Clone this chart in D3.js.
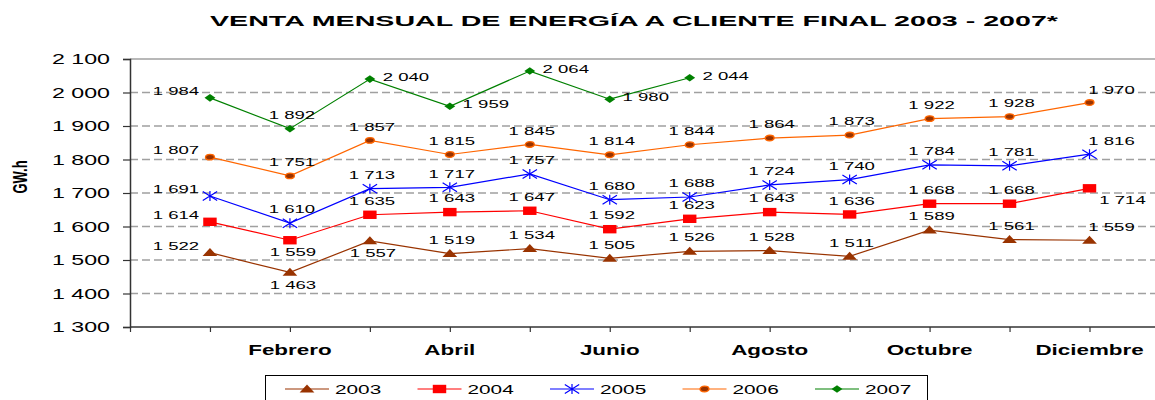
<!DOCTYPE html>
<html>
<head>
<meta charset="utf-8">
<script src="https://cdn.jsdelivr.net/npm/d3@7/dist/d3.min.js"></script>
<style>
    body { margin: 0; background: #fff; }
    svg { display: block; font-family: "Liberation Sans", Arial, sans-serif; }
</style>
</head>
<body>
<div id="chart"></div>
<script>
// categories
var months = ['Enero', 'Febrero', 'Marzo', 'Abril', 'Mayo', 'Junio',
              'Julio', 'Agosto', 'Septiembre', 'Octubre', 'Noviembre', 'Diciembre'];
var years = ['2003', '2004', '2005', '2006', '2007'];

// GW.h per month
var venta2003 = [1522, 1463, 1557, 1519, 1534, 1505, 1526, 1528, 1511, 1589, 1561, 1559];
var venta2004 = [1614, 1559, 1635, 1643, 1647, 1592, 1623, 1643, 1636, 1668, 1668, 1714];
var venta2005 = [1691, 1610, 1713, 1717, 1757, 1680, 1688, 1724, 1740, 1784, 1781, 1816];
var venta2006 = [1807, 1751, 1857, 1815, 1845, 1814, 1844, 1864, 1873, 1922, 1928, 1970];
var venta2007 = [1984, 1892, 2040, 1959, 2064, 1980, 2044];

var yTicks = [1300, 1400, 1500, 1600, 1700, 1800, 1900, 2000, 2100];

// where each data label sits relative to its point (l, a, b, r, ar, rb)
var labels2003 = ['l', 'b', 'b', 'a', 'a', 'a', 'a', 'a', 'a', 'a', 'a', 'ar'];
var labels2004 = ['l', 'b', 'a', 'a', 'a', 'a', 'a', 'a', 'a', 'a', 'a', 'rb'];
var labels2005 = ['l', 'a', 'a', 'a', 'a', 'a', 'a', 'a', 'a', 'a', 'a', 'ar'];
var labels2006 = ['l', 'a', 'a', 'a', 'a', 'a', 'a', 'a', 'a', 'a', 'a', 'ar'];
var labels2007 = ['l', 'a', 'r', 'r', 'r', 'r', 'r'];

var WIDTH = 1155, HEIGHT = 400;
var PLOT = {left: 130, right: 1155, top: 59, bottom: 327};
// the original picture is stretched sideways, text and markers follow it
var SX = 1.6;

var LABEL_OFFSETS = {
    l:  {dx: -34, dy: -7},
    a:  {dx: 2,   dy: -14},
    b:  {dx: 3,   dy: 12},
    r:  {dx: 36,  dy: -2},
    ar: {dx: 22,  dy: -13},
    rb: {dx: 33,  dy: 11}
};

var fmt = d3.formatLocale({decimal: ',', thousands: ' ', grouping: [3], currency: ['', '']}).format(',d');

var series = [
    {name: years[0], values: venta2003, pos: labels2003, color: '#993300', marker: 'triangle'},
    {name: years[1], values: venta2004, pos: labels2004, color: '#ff0000', marker: 'square'},
    {name: years[2], values: venta2005, pos: labels2005, color: '#0000ff', marker: 'star'},
    {name: years[3], values: venta2006, pos: labels2006, color: '#ff6600', marker: 'circle'},
    {name: years[4], values: venta2007, pos: labels2007, color: '#008000', marker: 'diamond'}
];

var svg = d3.select('#chart').append('svg')
    .attr('width', WIDTH)
    .attr('height', HEIGHT);

// Scales: month i sits on tick i+1, tick 0 is the value axis
var x = d3.scaleLinear().domain([0, 12]).range([PLOT.left, 1089.5]);
var y = d3.scaleLinear().domain([1300, 2100]).range([PLOT.bottom, PLOT.top]);

/**
 * Draws one marker shape (pre-stretch coordinates) into a group.
 */
function drawMarker(g, type, color) {
    if (type === 'triangle') {
        g.append('path').attr('d', 'M0,-4.6L4.6,3.4L-4.6,3.4Z').attr('fill', color);
    } else if (type === 'square') {
        g.append('rect').attr('x', -4.2).attr('y', -4.2).attr('width', 8.4).attr('height', 8.4).attr('fill', color);
    } else if (type === 'star') {
        g.append('path')
            .attr('d', 'M-4.5,-4.5L4.5,4.5M-4.5,4.5L4.5,-4.5M0,-5L0,5')
            .attr('stroke', color)
            .attr('stroke-width', 1.2)
            .attr('vector-effect', 'non-scaling-stroke')
            .attr('fill', 'none');
    } else if (type === 'circle') {
        g.append('circle').attr('r', 2.8)
            .attr('fill', '#993300')
            .attr('stroke', color)
            .attr('stroke-width', 1.3)
            .attr('vector-effect', 'non-scaling-stroke');
    } else if (type === 'diamond') {
        g.append('path').attr('d', 'M0,-3.8L3.4,0L0,3.8L-3.4,0Z').attr('fill', color);
    }
}

// Title
svg.append('text')
    .attr('x', 634)
    .attr('y', 26)
    .attr('text-anchor', 'middle')
    .attr('font-size', 15.5)
    .attr('font-weight', 'bold')
    .attr('textLength', 848)
    .attr('lengthAdjust', 'spacingAndGlyphs')
    .text('VENTA MENSUAL DE ENERGÍA A CLIENTE FINAL 2003 - 2007*');

// Grid lines
svg.append('g')
    .selectAll('line')
    .data(yTicks.slice(1))
    .enter().append('line')
    .attr('x1', PLOT.left)
    .attr('x2', PLOT.right)
    .attr('y1', function(d) { return y(d); })
    .attr('y2', function(d) { return y(d); })
    .attr('stroke', '#a0a0a0')
    .attr('stroke-width', 1.3)
    .attr('stroke-dasharray', function(d) { return d === 2100 ? null : '8,4'; });

// Y axis
var yAxis = svg.append('g')
    .attr('transform', 'translate(' + PLOT.left + ',0)')
    .call(d3.axisLeft(y).tickValues(yTicks).tickSize(7).tickFormat(''));
yAxis.select('.domain').attr('stroke', '#333').attr('stroke-width', 1.5);
yAxis.selectAll('.tick line').attr('stroke', '#333').attr('stroke-width', 1.2);

svg.append('g')
    .selectAll('text')
    .data(yTicks)
    .enter().append('text')
    .attr('transform', function(d) { return 'translate(110,' + (y(d) + 5.2) + ') scale(' + SX + ',1)'; })
    .attr('text-anchor', 'end')
    .attr('font-size', 14.5)
    .text(fmt);

// X axis
var xAxis = svg.append('g')
    .attr('transform', 'translate(0,' + PLOT.bottom + ')')
    .call(d3.axisBottom(x).tickValues(d3.range(0, 14)).tickSize(5).tickFormat(''));
xAxis.select('.domain').remove();
xAxis.selectAll('.tick line').attr('stroke', '#333').attr('stroke-width', 1.2);
svg.append('line')
    .attr('x1', PLOT.left).attr('x2', PLOT.right)
    .attr('y1', PLOT.bottom).attr('y2', PLOT.bottom)
    .attr('stroke', '#333').attr('stroke-width', 1.5);

svg.append('g')
    .selectAll('text')
    .data(months.filter(function(m, i) { return i % 2 === 1; }))
    .enter().append('text')
    .attr('transform', function(d) {
        return 'translate(' + x(months.indexOf(d) + 1) + ',355) scale(' + SX + ',1)';
    })
    .attr('text-anchor', 'middle')
    .attr('font-size', 14)
    .attr('font-weight', 'bold')
    .text(function(d) { return d; });

// Y axis title
svg.append('text')
    .attr('transform', 'translate(27,177) scale(' + SX + ',1) rotate(-90)')
    .attr('text-anchor', 'middle')
    .attr('font-size', 13)
    .attr('font-weight', 'bold')
    .text('GW.h');

// Series
var valueLine = d3.line()
    .x(function(d, i) { return x(i + 1); })
    .y(function(d) { return y(d); });

series.forEach(function(s) {
    var g = svg.append('g').attr('class', 'series');

    g.append('path')
        .attr('d', valueLine(s.values))
        .attr('fill', 'none')
        .attr('stroke', s.color)
        .attr('stroke-width', 1.2);

    s.values.forEach(function(v, i) {
        var m = g.append('g')
            .attr('transform', 'translate(' + x(i + 1) + ',' + y(v) + ') scale(' + SX + ',1)');
        drawMarker(m, s.marker, s.color);
    });

    g.selectAll('text.lbl')
        .data(s.values)
        .enter().append('text')
        .attr('class', 'lbl')
        .attr('transform', function(v, i) {
            var off = LABEL_OFFSETS[s.pos[i]];
            return 'translate(' + (x(i + 1) + off.dx) + ',' + (y(v) + off.dy + 4.2) + ') scale(' + SX + ',1)';
        })
        .attr('text-anchor', 'middle')
        .attr('font-size', 11.6)
        .attr('fill', '#000')
        .text(fmt);
});

// Legend
var legend = svg.append('g');
legend.append('rect')
    .attr('x', 265.5).attr('y', 375.5)
    .attr('width', 662).attr('height', 40)
    .attr('fill', '#fff')
    .attr('stroke', '#000')
    .attr('stroke-width', 1);

series.forEach(function(s, i) {
    var lx = 285 + i * 132.5;
    var item = legend.append('g').attr('transform', 'translate(' + lx + ',389)');
    item.append('line')
        .attr('x1', 0).attr('x2', 44)
        .attr('stroke', s.color)
        .attr('stroke-width', 1.2);
    drawMarker(item.append('g').attr('transform', 'translate(22,0) scale(' + SX + ',1)'), s.marker, s.color);
    item.append('text')
        .attr('transform', 'translate(50,5) scale(' + SX + ',1)')
        .attr('font-size', 13)
        .text(s.name);
});
</script>
</body>
</html>
